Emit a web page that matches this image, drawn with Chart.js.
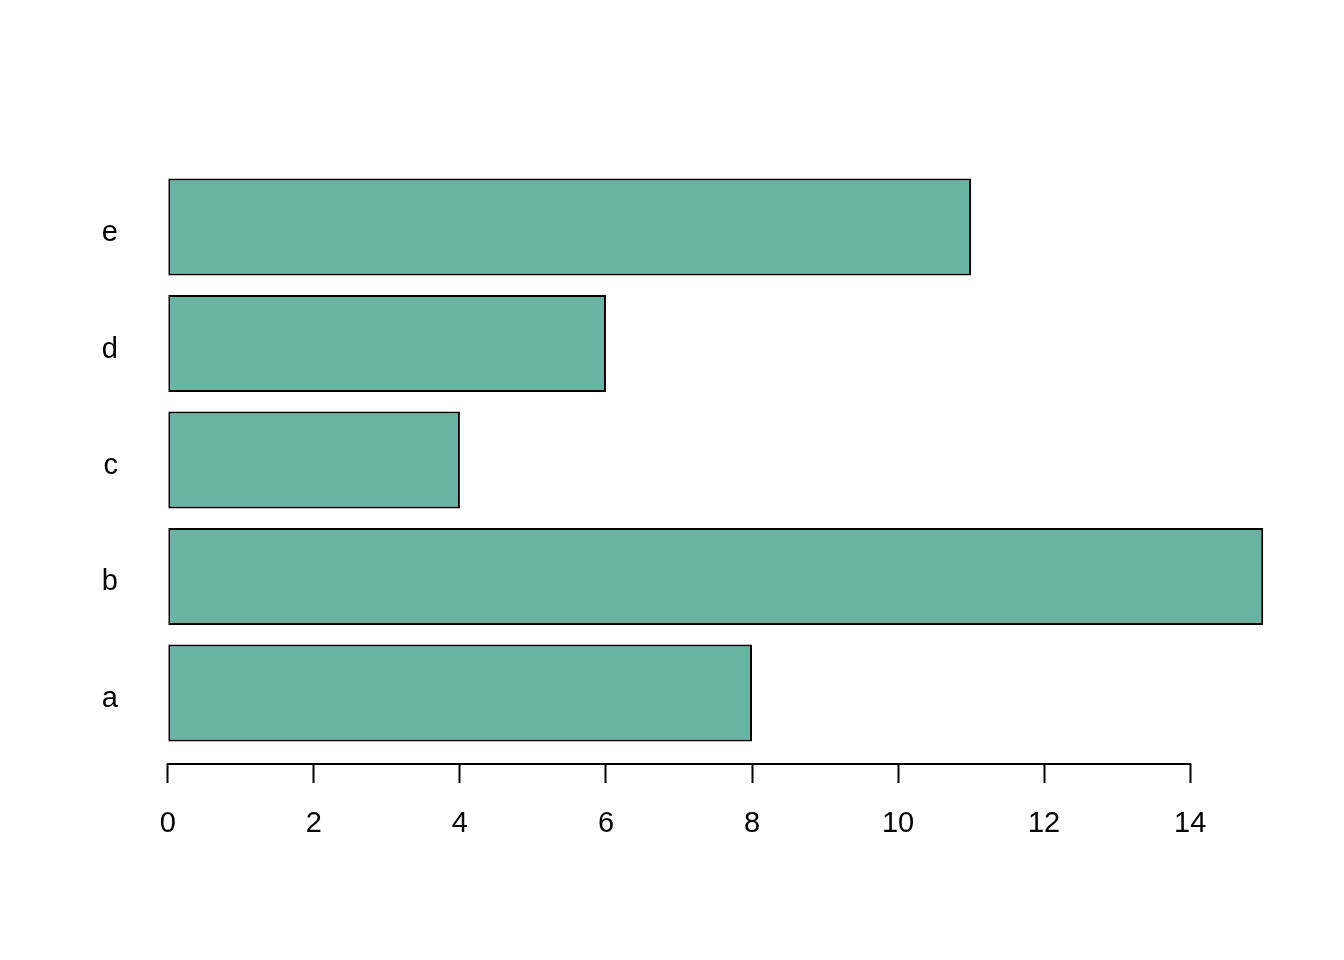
<!DOCTYPE html>
<html>
<head>
<meta charset="utf-8">
<script src="https://cdn.jsdelivr.net/npm/chart.js@4/dist/chart.umd.min.js"></script>
<style>
  html, body { margin: 0; padding: 0; background: #fff; }
  canvas { display: block; }
</style>
</head>
<body>
<canvas id="chart" width="1344" height="960"></canvas>
<script>
const categories = ["a", "b", "c", "d", "e"];
const values = [8, 15, 4, 6, 11];
const xTicks = [0, 2, 4, 6, 8, 10, 12, 14];

// R barplot layout: width 1, space 0.2 -> bar centres at 0.7, 1.9, ...
const barSpace = 0.2;
const barWidth = 1;
const barCentres = categories.map((c, i) => (i + 1) * (barSpace + barWidth) - barWidth / 2);

const FONT = { family: "'Liberation Sans', Arial, sans-serif", size: 29 };

// R draws the axis line only between the first and last tick
const axisLine = {
  id: "axisLine",
  afterDraw(chart) {
    const x = chart.scales.x;
    const ctx = chart.ctx;
    const y = chart.chartArea.bottom;
    ctx.save();
    ctx.strokeStyle = "#000";
    ctx.lineWidth = 2;
    ctx.lineCap = "square";
    ctx.beginPath();
    ctx.moveTo(x.getPixelForValue(xTicks[0]), y);
    ctx.lineTo(x.getPixelForValue(xTicks[xTicks.length - 1]), y);
    ctx.stroke();
    ctx.restore();
  },
};

const yLo = barSpace, yHi = categories.length * (barSpace + barWidth);
const yPad = (yHi - yLo) * 0.04;
const xMax = Math.max(...values);
const xPad = xMax * 0.04;

new Chart(document.getElementById("chart"), {
  type: "bar",
  data: {
    datasets: [{
      data: values.map((v, i) => ({ x: v, y: barCentres[i] })),
      backgroundColor: "#69b3a2",
      borderColor: "#000",
      borderWidth: 2,
      borderSkipped: false,
      categoryPercentage: 1,
      barPercentage: barWidth / (barWidth + barSpace),
    }],
  },
  options: {
    indexAxis: "y",
    responsive: false,
    animation: false,
    devicePixelRatio: 1,
    layout: { padding: { left: 0, right: 37, top: 156, bottom: 0 } },
    plugins: { legend: { display: false }, tooltip: { enabled: false } },
    scales: {
      x: {
        type: "linear",
        min: -xPad,
        max: xMax + xPad,
        afterBuildTicks: (s) => { s.ticks = xTicks.map((v) => ({ value: v })); },
        afterFit: (s) => { s.height = 196; },
        border: { display: false },
        grid: {
          drawOnChartArea: false,
          drawTicks: true,
          tickLength: 19,
          tickWidth: 2,
          tickColor: "#000",
        },
        ticks: { color: "#000", font: FONT, padding: 24, autoSkip: false, maxRotation: 0 },
      },
      y: {
        type: "linear",
        offset: false,
        min: yLo - yPad,
        max: yHi + yPad,
        afterBuildTicks: (s) => { s.ticks = barCentres.map((v) => ({ value: v })); },
        afterFit: (s) => { s.width = 124; },
        border: { display: false },
        grid: { display: false, drawTicks: false, offset: false },
        ticks: {
          color: "#000",
          font: FONT,
          padding: 6,
          labelOffset: 6,
          callback: (v, i) => categories[i],
        },
      },
    },
  },
  plugins: [axisLine],
});
</script>
</body>
</html>
